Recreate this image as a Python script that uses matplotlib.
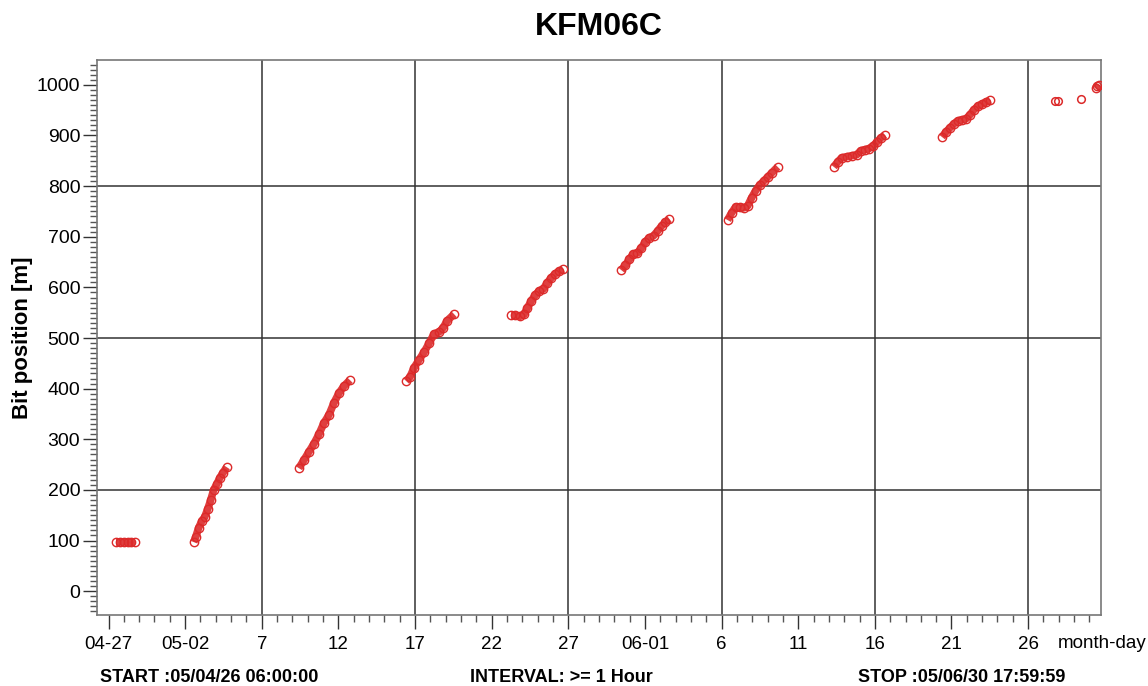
import datetime as dt
import matplotlib
matplotlib.use('Agg')
import matplotlib.pyplot as plt
import matplotlib.dates as mdates
from matplotlib.ticker import MultipleLocator, FixedLocator

plt.rcParams['font.family'] = ['Liberation Sans', 'DejaVu Sans']

# tiempo en dias desde 2005-04-27 00:00, profundidad en m
seg1_days = [0.52, 0.75, 1.0, 1.25, 1.5, 1.7]
seg1_depth = [98, 98, 98, 98, 98, 98]

seg2_days = [5.56, 5.69, 5.88, 6.08, 6.27, 6.47, 6.67, 6.86, 7.06, 7.25, 7.45, 7.71]
seg2_depth = [97, 107, 125, 138, 146, 162, 180, 200, 211, 223, 233, 245]

seg3_days = [12.42, 12.75, 13.07, 13.40, 13.73, 14.05, 14.38, 14.71, 15.03, 15.36, 15.75]
seg3_depth = [243, 259, 275, 291, 310, 332, 348, 372, 391, 405, 417]

seg4_days = [19.42, 19.67, 19.93, 20.26, 20.59, 20.92, 21.24, 21.57, 21.83, 22.09, 22.55]
seg4_depth = [415, 423, 441, 457, 472, 490, 508, 512, 520, 534, 547]

seg5_days = [26.27, 26.54, 26.86, 27.12, 27.32, 27.58, 27.84, 28.10, 28.37, 28.63, 28.89, 29.15, 29.41, 29.67]
seg5_depth = [545, 545, 543, 547, 559, 573, 585, 593, 597, 609, 619, 627, 632, 636]

seg6_days = [33.46, 33.73, 33.99, 34.25, 34.51, 34.77, 35.03, 35.29, 35.56, 35.82, 36.08, 36.34, 36.60]
seg6_depth = [634, 644, 656, 666, 668, 678, 690, 698, 702, 711, 721, 729, 735]

seg7_days = [40.39, 40.65, 40.92, 41.18, 41.44, 41.70, 41.96, 42.22, 42.48, 42.75, 43.01, 43.27, 43.66]
seg7_depth = [733, 747, 759, 759, 757, 761, 777, 791, 802, 810, 818, 826, 838]

seg8_days = [47.32, 47.58, 47.84, 48.17, 48.50, 48.82, 49.08, 49.35, 49.61, 49.87, 50.13, 50.39, 50.65]
seg8_depth = [838, 848, 856, 858, 860, 862, 870, 872, 874, 879, 887, 895, 901]

seg9_days = [54.38, 54.64, 54.90, 55.16, 55.42, 55.69, 55.95, 56.21, 56.47, 56.73, 56.99, 57.25, 57.52]
seg9_depth = [897, 907, 915, 923, 929, 931, 933, 941, 951, 958, 962, 966, 970]

single_days = [61.76, 61.94, 63.46]
single_depth = [969, 969, 972]

seg10_days = [64.40, 64.50, 64.60]
seg10_depth = [993, 997, 1000]

tick_labels = ['04-27', '05-02', '7', '12', '17', '22', '27', '06-01', '6', '11', '16', '21', '26']
grid_days = [10, 20, 30, 40, 50, 60]
grid_depth = [200, 500, 800]

base = dt.datetime(2005, 4, 27)


def to_dates(days):
    return [base + dt.timedelta(days=d) for d in days]


red = '#dc2a2a'
fig, ax = plt.subplots(figsize=(11.48, 6.86), dpi=100)
fig.subplots_adjust(left=0.0845, right=0.959, top=0.9125, bottom=0.1035)

segments = [(seg1_days, seg1_depth), (seg2_days, seg2_depth), (seg3_days, seg3_depth),
            (seg4_days, seg4_depth), (seg5_days, seg5_depth), (seg6_days, seg6_depth),
            (seg7_days, seg7_depth), (seg8_days, seg8_depth), (seg9_days, seg9_depth),
            (seg10_days, seg10_depth)]
for days, depth in segments:
    ax.plot(to_dates(days), depth, color=red, linewidth=5.5, alpha=0.9, solid_capstyle='butt',
            solid_joinstyle='round', zorder=3)
    ax.plot(to_dates(days), depth, linestyle='none', marker='o', markersize=6,
            markerfacecolor='none', markeredgecolor=red, markeredgewidth=1, zorder=4)
ax.plot(to_dates(single_days), single_depth, linestyle='none', marker='o', markersize=5.5,
        markerfacecolor='none', markeredgecolor=red, markeredgewidth=1.1, zorder=4)

# rejilla
for d in grid_days:
    ax.axvline(base + dt.timedelta(days=d), color='#333333', linewidth=1.1, zorder=1)
for v in grid_depth:
    ax.axhline(v, color='#333333', linewidth=1.1, zorder=1)

ax.set_xlim(dt.datetime(2005, 4, 26, 6), dt.datetime(2005, 6, 30, 17, 59, 59))
ax.set_ylim(-47, 1049)

major_x = [mdates.date2num(base + dt.timedelta(days=5 * i)) for i in range(len(tick_labels))]
minor_x = [mdates.date2num(base + dt.timedelta(days=i)) for i in range(-1, 65)]
ax.xaxis.set_major_locator(FixedLocator(major_x))
ax.xaxis.set_minor_locator(FixedLocator(minor_x))
ax.set_xticklabels(tick_labels, fontsize=13.5)
ax.yaxis.set_major_locator(MultipleLocator(100))
ax.yaxis.set_minor_locator(MultipleLocator(10))
ax.tick_params(axis='y', labelsize=14, pad=2)
ax.tick_params(axis='x', pad=5)
ax.tick_params(which='major', length=10, width=1, color='#333333')
ax.tick_params(which='minor', length=5, width=1, color='#555555')

for s in ax.spines.values():
    s.set_color('#777777')
    s.set_linewidth(1.2)

ax.set_title('KFM06C', fontsize=23, fontweight='bold', pad=18)
ax.set_ylabel('Bit position [m]', fontsize=16, fontweight='bold')
ax.yaxis.set_label_coords(-0.064, 0.5)

fig.text(1058 / 1148, 1 - 643 / 686, 'month-day', fontsize=13.5, va='center', ha='left')
fig.text(100 / 1148, 1 - 678 / 686, 'START :05/04/26 06:00:00', fontsize=13, fontweight='bold', va='center')
fig.text(470 / 1148, 1 - 678 / 686, 'INTERVAL: >= 1 Hour', fontsize=13, fontweight='bold', va='center')
fig.text(858 / 1148, 1 - 678 / 686, 'STOP :05/06/30 17:59:59', fontsize=13, fontweight='bold', va='center')

fig.savefig('out.png', dpi=100)
